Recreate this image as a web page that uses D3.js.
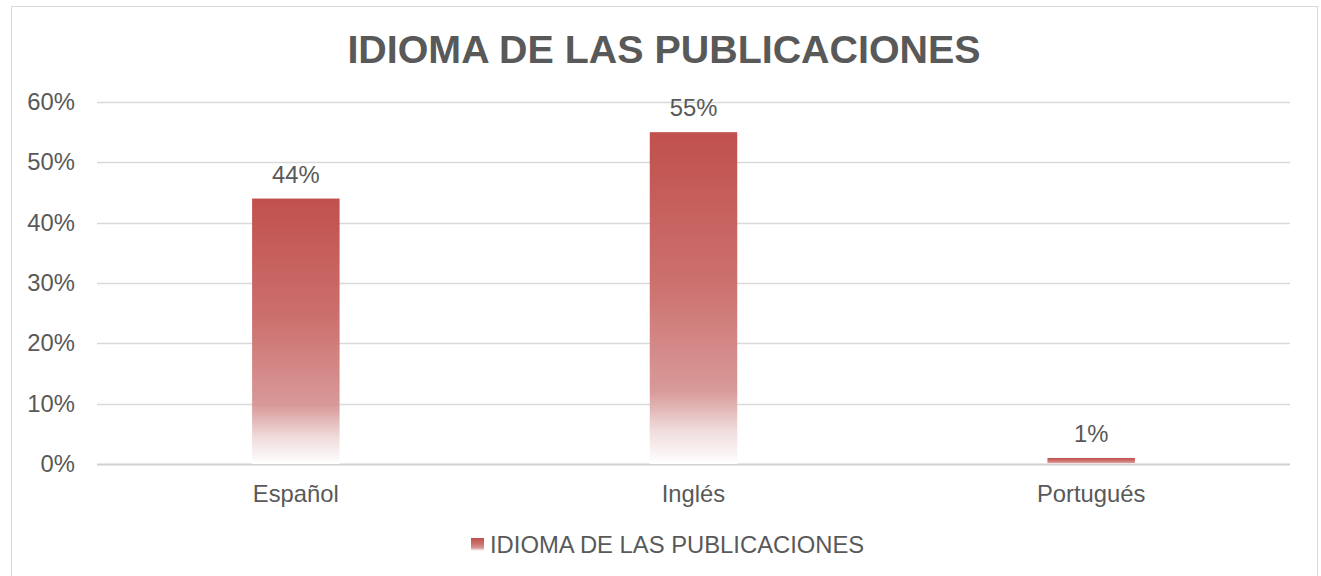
<!DOCTYPE html>
<html>
<head>
<meta charset="utf-8">
<script src="https://cdn.jsdelivr.net/npm/d3@7"></script>
<style>
  body { margin: 0; background: #fff; }
  text { font-family: "Liberation Sans", Arial, sans-serif; fill: #595959; }
</style>
</head>
<body>
<svg id="chart" width="1321" height="576"></svg>
<script>
var categories = ["Español", "Inglés", "Portugués"];
var values = [0.44, 0.55, 0.01];
var yTicks = [0, 0.1, 0.2, 0.3, 0.4, 0.5, 0.6];
var seriesName = "IDIOMA DE LAS PUBLICACIONES";
var title = "IDIOMA DE LAS PUBLICACIONES";

var svg = d3.select("#chart"),
    width = +svg.attr("width"),
    height = +svg.attr("height");

var margin = {left: 97, right: 31, top: 102, bottom: 112};
var fontSize = 23.8;

// outer frame
svg.append("rect")
    .attr("x", 11.5).attr("y", 6.5)
    .attr("width", 1306).attr("height", 580)
    .attr("fill", "#fff")
    .attr("stroke", "#d9d9d9");

var defs = svg.append("defs");
var grad = defs.append("linearGradient")
    .attr("id", "barGrad")
    .attr("x1", 0).attr("y1", 0).attr("x2", 0).attr("y2", 1);
grad.append("stop").attr("offset", "0%").attr("stop-color", "#c0504d");
grad.append("stop").attr("offset", "45%").attr("stop-color", "#cc706d");
grad.append("stop").attr("offset", "78%").attr("stop-color", "#d89a99");
grad.append("stop").attr("offset", "90%").attr("stop-color", "#f0dcdc");
grad.append("stop").attr("offset", "100%").attr("stop-color", "#ffffff");

var x = d3.scaleBand()
    .domain(categories)
    .range([margin.left, width - margin.right])
    .paddingInner(0.78)
    .paddingOuter(0.39);

var y = d3.scaleLinear()
    .domain([0, 0.6])
    .range([height - margin.bottom, margin.top]);

// gridlines
svg.append("g")
  .selectAll("line")
  .data(yTicks)
  .enter().append("line")
    .attr("x1", margin.left)
    .attr("x2", width - margin.right)
    .attr("y1", function(d) { return Math.round(y(d)) + 0.5; })
    .attr("y2", function(d) { return Math.round(y(d)) + 0.5; })
    .attr("stroke", function(d) { return d === 0 ? "#d0d0d0" : "#d9d9d9"; })
    .attr("stroke-width", function(d) { return d === 0 ? 2 : 1.5; });

// y axis labels
var yAxis = d3.axisLeft(y)
    .tickValues(yTicks)
    .tickFormat(d3.format(".0%"))
    .tickSize(0)
    .tickPadding(22);

var yg = svg.append("g")
    .attr("transform", "translate(" + margin.left + ",0)")
    .call(yAxis);
yg.select(".domain").remove();
yg.selectAll("text")
    .attr("font-size", fontSize)
    .attr("fill", "#595959")
    .style("font-family", "'Liberation Sans', Arial, sans-serif");

// bars
svg.append("g")
  .selectAll("rect")
  .data(values)
  .enter().append("rect")
    .attr("x", function(d, i) { return x(categories[i]); })
    .attr("width", x.bandwidth())
    .attr("y", function(d) { return y(d); })
    .attr("height", function(d) { return y(0) - y(d); })
    .attr("fill", "url(#barGrad)");

// value labels
svg.append("g")
  .selectAll("text")
  .data(values)
  .enter().append("text")
    .attr("x", function(d, i) { return x(categories[i]) + x.bandwidth() / 2; })
    .attr("y", function(d) { return y(d) - 16; })
    .attr("text-anchor", "middle")
    .attr("font-size", fontSize)
    .text(function(d) { return d3.format(".0%")(d); });

// x axis labels
var xAxis = d3.axisBottom(x).tickSize(0).tickPadding(21);
var xg = svg.append("g")
    .attr("transform", "translate(0," + y(0) + ")")
    .call(xAxis);
xg.select(".domain").remove();
xg.selectAll("text")
    .attr("font-size", fontSize)
    .attr("fill", "#595959")
    .style("font-family", "'Liberation Sans', Arial, sans-serif");

// title
svg.append("text")
    .attr("x", 664)
    .attr("y", 63)
    .attr("text-anchor", "middle")
    .attr("font-size", 39.4)
    .attr("font-weight", "bold")
    .text(title);

// legend
var legend = svg.append("g").attr("transform", "translate(471,538)");
legend.append("rect")
    .attr("width", 13).attr("height", 13)
    .attr("fill", "url(#barGrad)");
legend.append("text")
    .attr("x", 19)
    .attr("y", 15)
    .attr("font-size", fontSize)
    .text(seriesName);
</script>
</body>
</html>
